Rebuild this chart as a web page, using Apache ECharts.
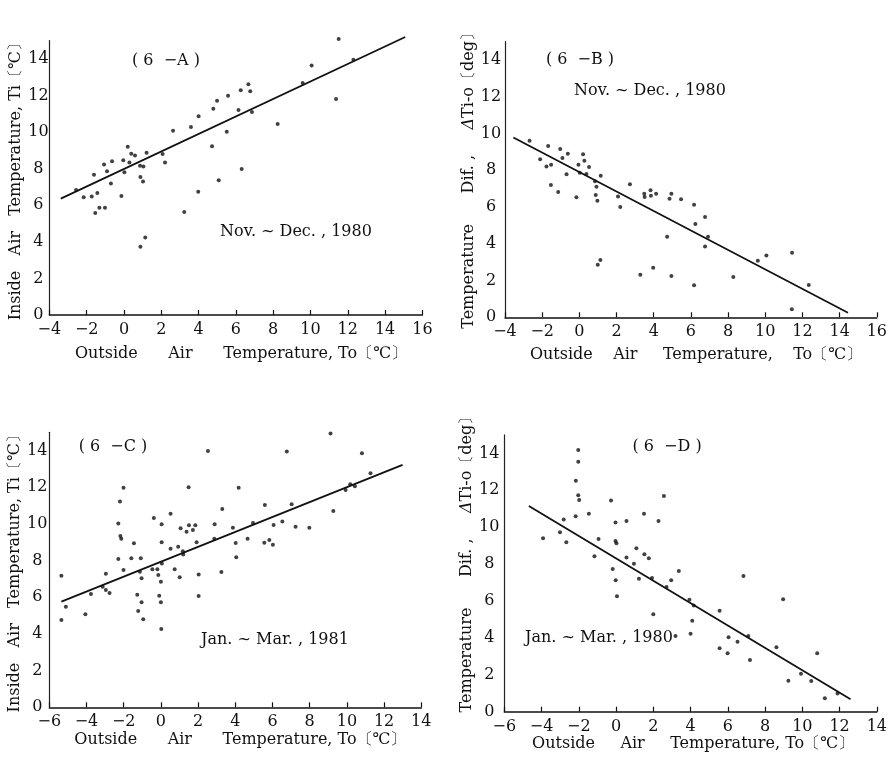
<!DOCTYPE html>
<html><head><meta charset="utf-8">
<script src="https://cdn.jsdelivr.net/npm/echarts@6/dist/echarts.min.js"></script>
<style>html,body{margin:0;padding:0;background:#fff}#c{width:890px;height:758px}</style>
</head><body><div id="c"></div>
<script>
// ---- Data ----
const pointsA = [[-2.57,6.83],[-2.16,6.43],[-1.73,6.48],[-1.61,7.67],[-1.43,6.67],[-1.54,5.57],[-1.32,5.86],[-1.02,5.86],[-1.07,8.23],[-0.91,7.85],[-0.70,7.19],[-0.64,8.40],[-0.14,6.50],[-0.04,8.45],[0.02,7.80],[0.20,9.20],[0.29,8.34],[0.39,8.81],[0.59,8.71],[0.86,8.16],[1.04,8.11],[0.88,7.54],[1.02,7.29],[1.21,8.87],[0.88,3.73],[1.14,4.23],[2.07,8.80],[2.20,8.34],[2.63,10.07],[3.23,5.63],[3.59,10.27],[4.00,10.86],[3.98,6.74],[4.79,11.27],[4.99,11.71],[4.72,9.22],[5.08,7.36],[5.51,10.02],[5.58,11.98],[6.14,11.20],[6.26,12.28],[6.67,12.61],[6.77,12.22],[6.86,11.09],[6.31,7.98],[8.24,10.44],[9.58,12.68],[10.06,13.64],[11.37,11.80],[11.51,15.08],[12.30,13.95]];
const fitA = [[-3.39,6.36],[15.08,15.19]];

const pointsB = [[-2.68,9.61],[-2.11,8.60],[-1.77,8.21],[-1.68,9.32],[-1.52,8.30],[-1.53,7.20],[-1.14,6.82],[-1.03,9.16],[-0.91,8.67],[-0.69,7.78],[-0.62,8.90],[-0.16,6.53],[-0.05,8.30],[0.02,7.87],[0.20,8.87],[0.27,8.52],[0.38,7.80],[0.52,8.18],[0.84,7.40],[0.92,7.11],[0.88,6.65],[0.97,6.35],[1.15,7.70],[0.99,2.86],[1.13,3.12],[2.08,6.58],[2.20,6.00],[2.72,7.24],[3.28,2.32],[3.49,6.73],[3.51,6.55],[3.83,6.91],[3.85,6.62],[4.13,6.73],[3.97,2.70],[4.72,4.39],[4.85,6.45],[4.95,6.73],[4.95,2.25],[5.47,6.42],[6.17,6.13],[6.24,5.08],[6.76,5.46],[6.92,4.39],[6.76,3.86],[6.17,1.74],[8.28,2.19],[9.60,3.08],[10.06,3.37],[11.44,3.51],[12.34,1.76],[11.43,0.44]];
const fitB = [[-3.55,9.79],[14.45,0.25]];

const pointsC = [[-5.35,7.18],[-5.35,4.76],[-5.11,5.49],[-4.06,5.07],[-3.76,6.18],[-2.96,7.29],[-3.13,6.58],[-2.96,6.40],[-2.76,6.24],[-2.29,8.09],[-2.29,10.02],[-2.20,11.22],[-2.18,9.35],[-2.13,9.20],[-2.01,11.98],[-2.01,7.49],[-1.59,8.13],[-1.45,8.95],[-1.27,6.14],[-1.22,5.25],[-1.13,7.40],[-1.08,8.13],[-1.04,7.04],[-1.04,5.73],[-0.95,4.80],[-0.46,7.53],[-0.38,10.33],[-0.19,7.53],[-0.14,7.22],[-0.09,6.09],[0.00,6.85],[0.00,5.73],[0.02,4.27],[0.04,9.98],[0.04,9.00],[0.05,7.85],[0.52,10.56],[0.52,8.65],[0.74,7.53],[0.93,8.76],[1.01,7.09],[1.06,9.77],[1.18,8.51],[1.20,8.33],[1.38,9.58],[1.49,12.00],[1.51,9.93],[1.72,9.67],[1.85,9.93],[1.92,9.00],[2.03,7.24],[2.03,6.07],[2.53,13.98],[2.87,9.20],[2.89,9.98],[3.25,7.38],[3.30,10.82],[3.87,9.80],[4.02,8.96],[4.05,8.18],[4.18,11.98],[4.66,9.20],[4.95,10.05],[5.56,8.98],[5.59,11.04],[5.83,9.13],[6.02,8.87],[6.06,9.95],[6.53,10.13],[6.77,13.95],[7.03,11.07],[7.24,9.85],[7.98,9.80],[9.12,14.93],[9.27,10.71],[9.93,11.85],[10.18,12.16],[10.43,12.06],[10.81,13.86],[11.27,12.77]];
const fitC = [[-5.35,5.76],[12.99,13.22]];

const pointsD = [[-3.92,9.40],[-3.01,9.72],[-2.81,10.41],[-2.67,9.18],[-2.17,10.59],[-2.16,12.52],[-2.03,14.18],[-2.03,13.55],[-2.03,11.73],[-1.98,11.47],[-1.46,10.73],[-1.16,8.42],[-0.94,9.36],[-0.27,11.44],[-0.18,7.73],[-0.03,10.25],[-0.03,9.25],[0.02,9.13],[-0.02,7.12],[0.05,6.25],[0.56,10.34],[0.56,8.35],[0.96,8.02],[1.09,8.86],[1.23,7.21],[1.50,10.73],[1.52,8.53],[1.76,8.31],[1.93,7.25],[2.00,5.28],[2.28,10.34],[2.57,11.69],[2.71,6.76],[2.96,7.12],[3.37,7.63],[3.19,4.10],[3.94,6.07],[4.17,5.75],[4.09,4.93],[4.00,4.23],[5.56,5.47],[5.56,3.44],[5.99,3.17],[6.04,4.03],[6.52,3.79],[6.84,7.36],[7.10,4.10],[7.19,2.80],[8.61,3.49],[8.97,6.09],[9.25,1.68],[9.93,2.06],[10.48,1.66],[10.80,3.17],[11.21,0.73],[11.89,0.98]];
const fitD = [[-4.68,11.15],[12.59,0.67]];

const xRangeAB = [-4, 16];
const xRangeCD = [-6, 14];
const yRange = [0, 15];
const tickStep = 2;

const xNameA = '  Outside      Air      Temperature, To〔℃〕';
const xNameB = '  Outside    Air     Temperature,    To〔℃〕';
const xNameC = '  Outside      Air      Temperature, To〔℃〕';
const xNameD = ' Outside     Air     Temperature, To〔℃〕';
const yNameInside = 'Inside   Air   Temperature, Ti〔℃〕';
const yNameDifB = ' Temperature      Dif. ,     {i|\u0394}Ti-o〔deg〕';
const yNameDifD = '     Temperature      Dif. ,     {i|\u0394}Ti-o〔deg〕';

// ---- Chart ----
const FONT = '"DejaVu Serif","Liberation Serif",serif';
const chart = echarts.init(document.getElementById('c'), null, {renderer:'canvas'});

const grids = [
  {left:49.4, top:40.5, width:373, height:274.5},
  {left:505, top:41.7, width:373, height:275.6},
  {left:49.3, top:432.3, width:372, height:275},
  {left:504.3, top:434.9, width:373.7, height:276.8}
];
const xNameGap = [31, 30, 25, 22];
const yNameGap = [25, 22, 24, 21];
const yLabMargin = [11, 14, 12, 15];

function xAx(i, range, name){
  return {
    type:'value', gridIndex:i, min:range[0], max:range[1], interval:tickStep,
    axisLine:{onZero:false, lineStyle:{color:'#111', width:1.5}},
    axisTick:{inside:true, length:5, lineStyle:{color:'#111', width:1.2}},
    splitLine:{show:false},
    axisLabel:{color:'#111', fontFamily:FONT, fontSize:16, margin:7,
      formatter:v => v < 0 ? '\u2212' + Math.abs(v) : String(v)},
    name:name, nameLocation:'middle', nameGap:xNameGap[i],
    nameTextStyle:{color:'#111', fontFamily:FONT, fontSize:16}
  };
}
function yAx(i, name){
  return {
    type:'value', gridIndex:i, min:yRange[0], max:yRange[1], interval:tickStep,
    axisLine:{show:true, onZero:false, lineStyle:{color:'#222', width:1.2}},
    axisTick:{show:false},
    splitLine:{show:false},
    axisLabel:{color:'#111', fontFamily:FONT, fontSize:16, margin:yLabMargin[i], align:'center',
      formatter:v => (v % 2 === 0 ? String(v) : '')},
    name:name, nameLocation:'middle', nameGap:yNameGap[i],
    nameTextStyle:{color:'#111', fontFamily:FONT, fontSize:16,
      rich:{i:{fontStyle:'italic', fontFamily:FONT, fontSize:16, color:'#111'}}}
  };
}
function scatter(i, d){
  return {type:'scatter', xAxisIndex:i, yAxisIndex:i, data:d, symbol:'circle', symbolSize:4,
    itemStyle:{color:'#111'}, silent:true, clip:false};
}
function fit(i, d){
  return {type:'line', xAxisIndex:i, yAxisIndex:i, data:d, showSymbol:false, clip:false,
    lineStyle:{color:'#111', width:1.8}, silent:true};
}
function txt(x, y, s){
  return {type:'text', x:x, y:y, style:{text:s, font:'16px ' + FONT, fill:'#111', textAlign:'center', textVerticalAlign:'middle'}};
}

chart.setOption({
  animation:false,
  backgroundColor:'#fff',
  grid:grids,
  xAxis:[xAx(0,xRangeAB,xNameA), xAx(1,xRangeAB,xNameB), xAx(2,xRangeCD,xNameC), xAx(3,xRangeCD,xNameD)],
  yAxis:[yAx(0,yNameInside), yAx(1,yNameDifB), yAx(2,yNameInside), yAx(3,yNameDifD)],
  series:[
    scatter(0,pointsA), fit(0,fitA),
    scatter(1,pointsB), fit(1,fitB),
    scatter(2,pointsC), fit(2,fitC),
    scatter(3,pointsD), fit(3,fitD)
  ],
  graphic:[
    txt(166, 61, '( 6  \u2212A )'),
    txt(296, 232, 'Nov. ~ Dec. , 1980'),
    txt(580, 60, '( 6  \u2212B )'),
    txt(650, 91, 'Nov. ~ Dec. , 1980'),
    txt(113, 447, '( 6  \u2212C )'),
    txt(275, 640, 'Jan. ~ Mar. , 1981'),
    txt(667, 447, '( 6  \u2212D )'),
    txt(599, 638, 'Jan. ~ Mar. , 1980')
  ]
});
</script></body></html>
